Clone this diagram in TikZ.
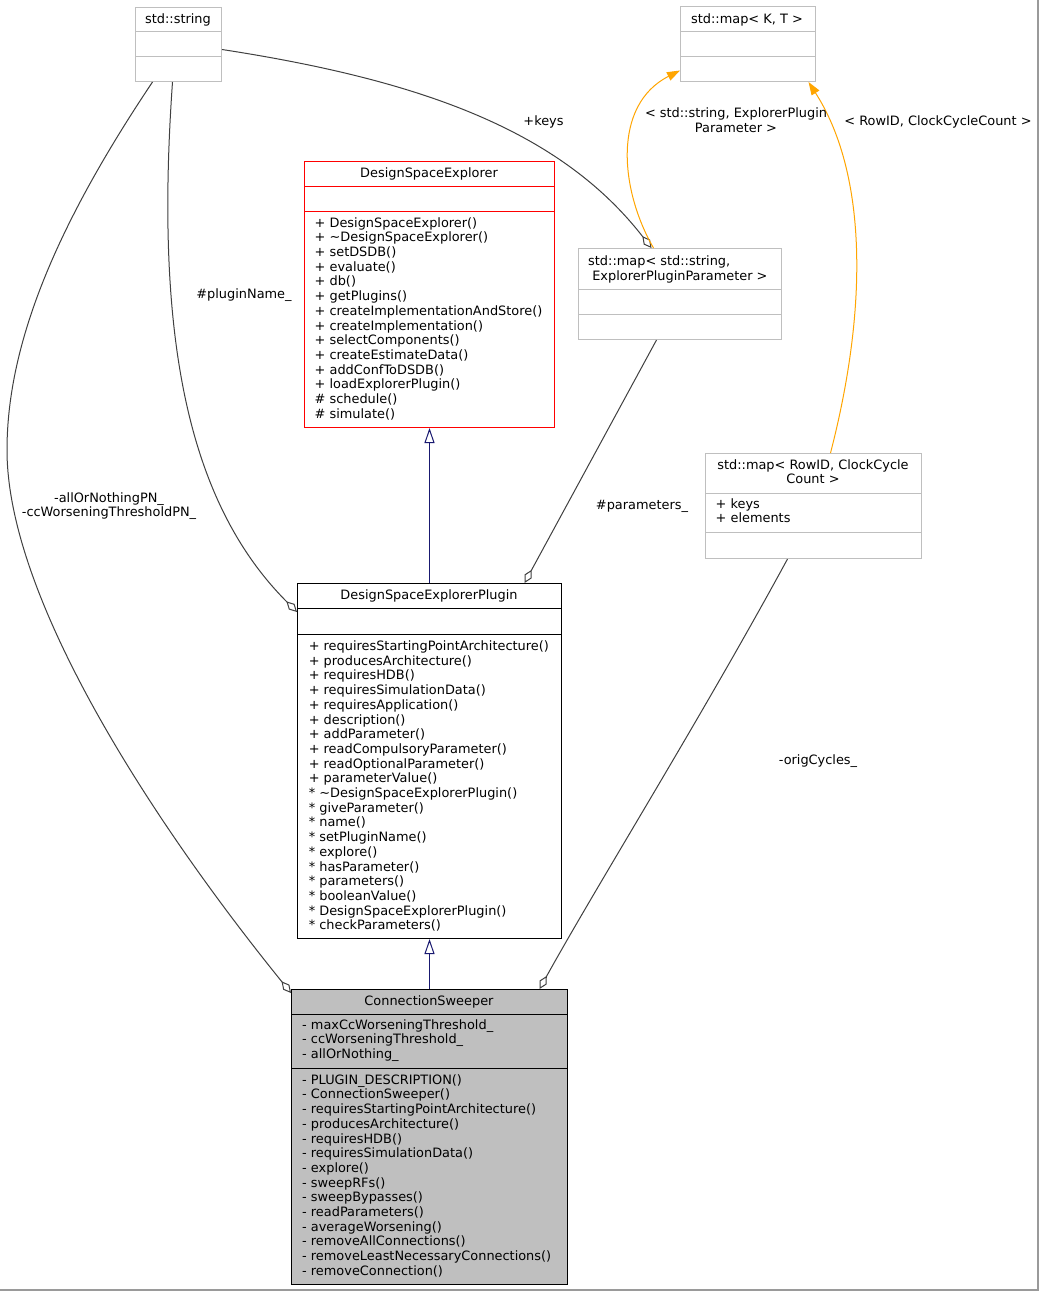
\documentclass[tikz,border=0pt]{standalone}
\usepackage{fontspec}
\newfontfamily\dejavu{DejaVu Sans}
\usetikzlibrary{arrows.meta}
\definecolor{edgegrey}{HTML}{404040}
\definecolor{boxgrey}{HTML}{BFBFBF}
\definecolor{navyline}{HTML}{191970}
\definecolor{tmplorange}{HTML}{FFA500}
\definecolor{dsered}{HTML}{FF0000}
\definecolor{framegrey}{HTML}{9A9A9A}

\begin{document}
\begin{tikzpicture}[x=1pt, y=-1pt,
  every node/.style={font=\dejavu\fontsize{12.9}{14.7}\selectfont, inner sep=0pt},
  classbox/.style={draw, rectangle, anchor=north west, line width=1pt},
  member/.style={draw=edgegrey, line width=1pt, -{Diamond[length=15pt, width=8pt, fill=white]}},
  inherit/.style={draw=navyline, line width=1pt, -{Triangle[length=15pt, width=10pt, fill=white]}},
  template/.style={draw=tmplorange, line width=1pt, -{Triangle[length=13pt, width=9pt]}},
  lines/.style={anchor=north west, align=left}]
  % collaboration diagram of ConnectionSweeper
  \useasboundingbox (0,0) rectangle (1039,1291);
  \fill[white] (0,0) rectangle (1039,1291);
  \draw[framegrey, line width=1.5pt] (0,1290.2) -- (1038.2,1290.2) -- (1038.2,0);

  % classes
  \node[classbox, draw=boxgrey, minimum width=86, minimum height=74] (str) at (135,7) {};
  \draw[boxgrey, line width=1pt] ([yshift=-24]str.north west) -- ([yshift=-24]str.north east);
  \draw[boxgrey, line width=1pt] ([yshift=-49]str.north west) -- ([yshift=-49]str.north east);
  \node[anchor=base] (strT) at (178,23) {std::string};

  \node[classbox, draw=boxgrey, minimum width=135, minimum height=75] (mkt) at (680,6) {};
  \draw[boxgrey, line width=1pt] ([yshift=-25]mkt.north west) -- ([yshift=-25]mkt.north east);
  \draw[boxgrey, line width=1pt] ([yshift=-50]mkt.north west) -- ([yshift=-50]mkt.north east);
  \node[anchor=base] (mktT) at (747,23) {std::map< K, T >};

  \node[classbox, draw=dsered, minimum width=250, minimum height=266] (dse) at (304,161) {};
  \draw[dsered, line width=1pt] ([yshift=-25]dse.north west) -- ([yshift=-25]dse.north east);
  \draw[dsered, line width=1pt] ([yshift=-50]dse.north west) -- ([yshift=-50]dse.north east);
  \node[anchor=base] (dseT) at (429,177.7) {DesignSpaceExplorer};
  \node[lines] (dseM) at (314.5,216.7) {\strut + DesignSpaceExplorer()\\ + \textasciitilde DesignSpaceExplorer()\\ + setDSDB()\\ + evaluate()\\ + db()\\ + getPlugins()\\ + createImplementationAndStore()\\ + createImplementation()\\ + selectComponents()\\ + createEstimateData()\\ + addConfToDSDB()\\ + loadExplorerPlugin()\\ \# schedule()\\ \# simulate()};

  \node[classbox, draw=boxgrey, minimum width=203, minimum height=91] (msp) at (578,248) {};
  \draw[boxgrey, line width=1pt] ([yshift=-41]msp.north west) -- ([yshift=-41]msp.north east);
  \draw[boxgrey, line width=1pt] ([yshift=-66]msp.north west) -- ([yshift=-66]msp.north east);
  \node[lines] (mspT) at (588,255.5) {\strut std::map< std::string,\\ \mbox{} ExplorerPluginParameter >};

  \node[classbox, draw=boxgrey, minimum width=216, minimum height=105] (mrc) at (705,453) {};
  \draw[boxgrey, line width=1pt] ([yshift=-40]mrc.north west) -- ([yshift=-40]mrc.north east);
  \draw[boxgrey, line width=1pt] ([yshift=-79]mrc.north west) -- ([yshift=-79]mrc.north east);
  \node[anchor=north, align=center] (mrcT) at (813,458.7) {\strut std::map< RowID, ClockCycle\\ Count >};
  \node[lines] (mrcA) at (715.5,497.7) {\strut + keys\\ + elements};

  \node[classbox, draw=black, minimum width=264, minimum height=355] (plg) at (297,583) {};
  \draw[black, line width=1pt] ([yshift=-25]plg.north west) -- ([yshift=-25]plg.north east);
  \draw[black, line width=1pt] ([yshift=-51]plg.north west) -- ([yshift=-51]plg.north east);
  \node[anchor=base] (plgT) at (429,599.3) {DesignSpaceExplorerPlugin};
  \node[lines] (plgM) at (308.6,640) {\strut + requiresStartingPointArchitecture()\\ + producesArchitecture()\\ + requiresHDB()\\ + requiresSimulationData()\\ + requiresApplication()\\ + description()\\ + addParameter()\\ + readCompulsoryParameter()\\ + readOptionalParameter()\\ + parameterValue()\\ {*} \textasciitilde DesignSpaceExplorerPlugin()\\ {*} giveParameter()\\ {*} name()\\ {*} setPluginName()\\ {*} explore()\\ {*} hasParameter()\\ {*} parameters()\\ {*} booleanValue()\\ {*} DesignSpaceExplorerPlugin()\\ {*} checkParameters()};

  \node[classbox, draw=black, fill=boxgrey, minimum width=276, minimum height=295] (cs) at (291,989) {};
  \draw[black, line width=1pt] ([yshift=-25]cs.north west) -- ([yshift=-25]cs.north east);
  \draw[black, line width=1pt] ([yshift=-79]cs.north west) -- ([yshift=-79]cs.north east);
  \node[anchor=base] (csT) at (429,1005.5) {ConnectionSweeper};
  \node[lines] (csA) at (302,1018.7) {\strut - maxCcWorseningThreshold\_\\ - ccWorseningThreshold\_\\ - allOrNothing\_};
  \node[lines] (csM) at (302,1073.7) {\strut - PLUGIN\_DESCRIPTION()\\ - ConnectionSweeper()\\ - requiresStartingPointArchitecture()\\ - producesArchitecture()\\ - requiresHDB()\\ - requiresSimulationData()\\ - explore()\\ - sweepRFs()\\ - sweepBypasses()\\ - readParameters()\\ - averageWorsening()\\ - removeAllConnections()\\ - removeLeastNecessaryConnections()\\ - removeConnection()};

  % inheritance
  \draw[inherit] (plg.north) -- (dse.south);
  \draw[inherit] (cs.north) -- (plg.south);

  % members
  \draw[member] ([xshift=-6]str.south) .. controls (155,330) and (185,500) .. ([yshift=-29]plg.north west);
  \draw[member] ([xshift=-26]str.south) .. controls (60,220) and (7,340) .. (7,450) .. controls (7,600) and (155,825) .. ([yshift=-4]cs.north west);
  \draw[member] ([yshift=-5]str.east) .. controls (420,80) and (560,130) .. ([xshift=-28.5]msp.north);
  \draw[member] ([xshift=-23.5]msp.south) -- ([xshift=95]plg.north);
  \draw[member] ([xshift=-26]mrc.south) .. controls (700,720) and (600,880) .. ([xshift=110]cs.north);

  % template instances
  \draw[template] ([xshift=-26.5]msp.north) .. controls (620,190) and (612,105) .. ([yshift=-26.5]mkt.west);
  \draw[template] ([xshift=17]mrc.north) .. controls (870,300) and (865,170) .. ([xshift=60.5]mkt.south);

  % labels
  \node[anchor=base] (lblName) at (244,298) {\#pluginName\_};
  \node[anchor=north, align=center] (lblAll) at (109,491.7) {\strut -allOrNothingPN\_\\ -ccWorseningThresholdPN\_};
  \node[anchor=base] (lblKeys) at (543.5,125.5) {+keys};
  \node[anchor=base] (lblPar) at (642,509) {\#parameters\_};
  \node[anchor=base] (lblOrig) at (818,764.5) {-origCycles\_};
  \node[anchor=north, align=center] (lblStr) at (736,107.2) {\strut < std::string, ExplorerPlugin\\ Parameter >};
  \node[anchor=base] (lblRow) at (938,125) {< RowID, ClockCycleCount >};
\end{tikzpicture}
\end{document}
